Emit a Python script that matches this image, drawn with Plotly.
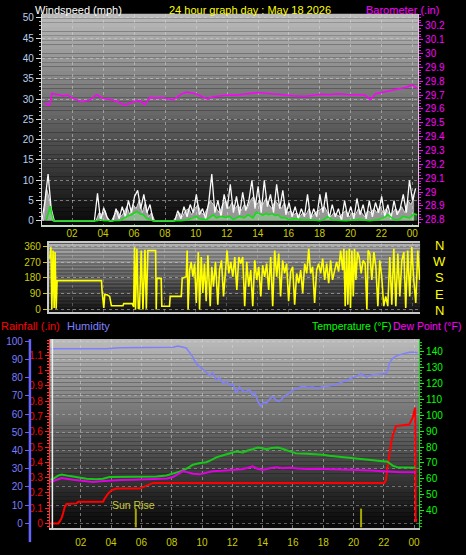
import plotly.graph_objects as go

W, H = 466, 555

# ---------------- data ----------------
hour_ticks = [2, 4, 6, 8, 10, 12, 14, 16, 18, 20, 22, 24]
hour_labels = ["02", "04", "06", "08", "10", "12", "14", "16", "18", "20", "22", "00"]

# wind gust (mph), one sample every 0.2 h from 00:00
wind_gust = [0, 5, 11.5, 3, 0, 0, 0, 0, 0, 0, 0, 0, 0, 0, 0, 0, 0, 0, 6.8, 0,
             3.2, 1, 0, 0, 3, 0.5, 3.5, 1, 5, 2, 6, 7.5, 3, 6.5, 2, 4, 0, 0, 0, 0,
             0, 0, 0, 0, 2.5, 0.5, 3.5, 1, 4, 2, 6.5, 1.5, 3, 0.5, 4.5, 11.5, 2, 5, 1, 6.5,
             3, 9, 2, 6, 1.5, 7, 2.5, 5, 10, 3, 8.5, 2, 10, 3.5, 6.5, 2, 9, 3, 7.5, 1.5,
             4.5, 1, 3.5, 0.5, 3, 1, 6.5, 0.5, 3, 1, 6.5, 2, 7, 0.5, 4, 1, 3, 0, 5, 1,
             3.5, 0.5, 5.5, 1.5, 4, 0.5, 5, 1, 4.5, 2, 6, 1, 4, 0.5, 5, 1.5, 3, 6.5, 2, 10,
             5, 8]
# wind speed (mph), one sample every 0.2 h from 00:06
wind_speed = [0, 8, 5, 0, 0, 0, 0, 0, 0, 0, 0, 0, 0, 0, 0, 0, 0, 0, 2, 1.5,
              2.5, 0, 0, 1.5, 2.5, 1, 2, 3.5, 1.5, 4, 3, 5, 2, 4.5, 1, 2, 0, 0, 0, 0,
              0, 0, 0, 1, 2, 1, 2.5, 3, 1.5, 3, 4, 2, 1.5, 3, 5, 4, 3, 2, 4, 5,
              3, 4.5, 3, 4, 2.5, 4, 3, 5, 6, 4, 5, 4, 5.5, 4, 3, 5, 4, 3, 4.5, 2,
              2.5, 1.5, 2, 1, 2, 1.5, 3, 1, 2, 2.5, 3, 3.5, 2, 1, 2, 1.5, 1, 2, 2.5, 1,
              2, 1.5, 3, 2, 1, 2.5, 2, 3, 2, 3.5, 2, 3, 1.5, 2, 3, 2, 3.5, 2, 5, 4,
              6]
# wind average (hour, mph)
wind_avg = [(0.3, 0.2), (0.45, 2.5), (0.54, 3.6), (0.62, 2.0), (0.75, 0.0), (3.6, 0.0), (3.76, 0.3),
            (4.0, 0.0), (5.06, 0.1), (5.3, 0.6), (5.5, 1.1), (5.8, 1.5), (6.0, 1.9), (6.13, 2.3),
            (6.35, 1.7), (6.56, 1.5), (6.78, 0.6), (7.0, 0.2), (7.2, 0.0), (9.0, 0.0), (9.36, 0.2),
            (9.7, 0.6), (10.0, 1.1), (10.2, 0.5), (10.66, 0.3), (10.9, 0.9), (11.1, 1.5), (11.3, 0.7),
            (11.6, 1.1), (11.9, 0.8), (12.17, 1.1), (12.38, 0.3), (12.6, 0.7), (12.8, 1.1), (13.1, 0.7),
            (13.35, 1.5), (13.67, 0.7), (13.88, 2.1), (14.1, 1.7), (14.3, 1.4), (14.5, 1.8), (14.7, 1.5),
            (14.9, 1.8), (15.1, 1.3), (15.3, 1.5), (15.5, 0.7), (15.75, 0.8), (16.0, 0.3), (16.5, 0.5),
            (16.9, 0.2), (17.55, 0.2), (18.0, 0.0), (18.3, 0.4), (18.5, 1.0), (18.8, 0.2), (19.7, 0.0),
            (20.2, 0.2), (20.55, 0.3), (21.2, 0.0), (21.85, 0.3), (22.2, 0.9), (22.4, 1.5), (22.8, 0.3),
            (23.1, 0.2), (23.4, 1.1), (23.8, 0.7), (24.1, 1.7), (24.3, 1.5)]
# barometer (hour, inHg)
barometer = [(0.15, 29.641), (0.49, 29.626), (0.65, 29.712), (1.07, 29.702), (1.4, 29.693), (1.62, 29.702),
             (2.04, 29.674), (2.58, 29.651), (3.12, 29.665), (3.55, 29.702), (3.98, 29.674), (4.4, 29.668),
             (4.84, 29.655), (5.38, 29.626), (5.92, 29.651), (6.35, 29.66), (6.67, 29.631), (7.0, 29.683),
             (7.4, 29.678), (7.75, 29.683), (8.1, 29.672), (8.5, 29.665), (9.0, 29.705), (9.37, 29.722),
             (10.01, 29.707), (10.66, 29.674), (11.1, 29.688), (11.52, 29.693), (12.03, 29.7),
             (12.6, 29.698), (13.11, 29.705), (13.97, 29.719), (14.5, 29.712), (15.05, 29.705),
             (15.6, 29.698), (16.3, 29.694), (16.99, 29.69), (17.5, 29.699), (18.06, 29.705),
             (18.6, 29.702), (19.14, 29.71), (19.7, 29.704), (20.22, 29.7), (20.87, 29.7), (21.05, 29.69),
             (21.25, 29.667), (21.62, 29.71), (22.1, 29.72), (22.58, 29.733), (23.0, 29.74),
             (23.45, 29.752), (23.99, 29.771), (24.31, 29.747)]
# wind direction (hour, degrees)
wind_dir = [(0.56, 291), (0.63, 356), (0.69, 0), (0.77, 337), (0.84, 9), (0.9, 328), (0.97, 4), (1.03, 165),
            (3.9, 165), (3.94, 103), (4.05, 9), (4.11, 84), (4.26, 84), (4.43, 75), (4.54, 22), (5.29, 22),
            (5.34, 34), (5.89, 34), (5.98, 15), (6.04, 356), (6.1, 0), (6.19, 347), (6.28, 4), (6.36, 9),
            (6.47, 337), (6.58, 0), (6.71, 341), (6.8, 4), (6.9, 337), (7.4, 337), (7.44, 0), (7.48, 178),
            (7.76, 178), (7.8, 19), (8.3, 19), (8.34, 75), (9.06, 75), (9.12, 178), (9.38, 187), (9.44, 337),
            (9.5, 0), (9.6, 225), (9.7, 272), (9.81, 187), (9.92, 262), (10.03, 37), (10.16, 328), (10.24, 0),
            (10.35, 300), (10.45, 94), (10.56, 262), (10.67, 47), (10.78, 309), (10.93, 19), (11.03, 244),
            (11.14, 131), (11.27, 272), (11.42, 28), (11.53, 225), (11.66, 281), (11.79, 75), (11.92, 262),
            (12.02, 337), (12.13, 206), (12.26, 272), (12.39, 187), (12.52, 300), (12.65, 112), (12.78, 300),
            (12.9, 262), (13.03, 300), (13.16, 19), (13.29, 272), (13.42, 131), (13.55, 225), (13.68, 19),
            (13.81, 281), (13.94, 169), (14.07, 244), (14.2, 75), (14.32, 253), (14.45, 187), (14.58, 262),
            (14.71, 112), (14.84, 300), (14.97, 19), (15.1, 337), (15.23, 187), (15.36, 319), (15.48, 75),
            (15.61, 281), (15.74, 206), (15.87, 262), (16.0, 47), (16.13, 216), (16.26, 244), (16.39, 28),
            (16.52, 206), (16.65, 150), (16.78, 225), (16.91, 94), (17.04, 262), (17.17, 206), (17.3, 347),
            (17.42, 206), (17.55, 244), (17.68, 37), (17.81, 225), (17.94, 262), (18.07, 206), (18.2, 291),
            (18.33, 169), (18.46, 262), (18.59, 150), (18.71, 281), (18.84, 169), (18.97, 225), (19.1, 272),
            (19.23, 216), (19.36, 337), (19.49, 225), (19.57, 347), (19.66, 19), (19.75, 337), (19.83, 28),
            (19.92, 347), (20.0, 9), (20.09, 337), (20.18, 75), (20.26, 347), (20.35, 169), (20.45, 328),
            (20.56, 300), (20.69, 206), (20.82, 281), (20.95, 262), (21.06, 0), (21.14, 337), (21.25, 319),
            (21.38, 169), (21.51, 328), (21.64, 244), (21.77, 19), (21.89, 281), (22.02, 187), (22.15, 19),
            (22.28, 75), (22.41, 19), (22.54, 300), (22.67, 28), (22.8, 347), (22.93, 19), (23.06, 319),
            (23.19, 75), (23.32, 281), (23.45, 328), (23.57, 9), (23.7, 337), (23.83, 75), (23.96, 356),
            (24.09, 169), (24.22, 37), (24.35, 337), (24.48, 169)]
# humidity (hour, %)
humidity = [(0.0, 95.8), (0.18, 95.8), (1.5, 95.8), (3.0, 95.9), (3.7, 95.8), (4.57, 96.4), (6.0, 96.4),
            (7.5, 96.5), (8.1, 96.6), (8.41, 97.3), (8.7, 96.6), (8.96, 96.2), (9.2, 93.5), (9.4, 91.2),
            (9.62, 87.6), (9.85, 86.0), (10.06, 84.0), (10.3, 82.5), (10.5, 81.2), (10.7, 82.8), (10.94, 78.5),
            (11.16, 79.9), (11.38, 76.8), (11.6, 78.0), (11.82, 75.8), (12.05, 76.5), (12.26, 71.4),
            (12.48, 75.0), (12.7, 72.5), (12.92, 72.3), (13.13, 73.5), (13.35, 70.4), (13.5, 71.5),
            (13.68, 66.9), (13.9, 64.2), (14.05, 66.5), (14.24, 65.9), (14.45, 68.0), (14.67, 69.6),
            (14.9, 67.5), (15.1, 66.9), (15.3, 68.5), (15.55, 70.4), (15.75, 71.2), (15.98, 73.1),
            (16.3, 74.0), (16.64, 75.3), (17.0, 74.5), (17.3, 74.8), (17.6, 74.0), (17.96, 75.0),
            (18.3, 75.2), (18.62, 75.8), (18.95, 76.5), (19.28, 77.7), (19.6, 78.5), (19.94, 80.0),
            (20.2, 80.5), (20.5, 82.2), (20.7, 81.0), (20.93, 80.4), (21.26, 81.6), (21.7, 81.9),
            (22.14, 82.2), (22.25, 83.5), (22.36, 87.6), (22.5, 89.5), (22.69, 91.2), (22.95, 92.3),
            (23.24, 93.0), (23.68, 93.8), (24.0, 93.8), (24.23, 93.6)]
# rainfall (hour, inches)
rainfall = [(0.0, 0.0), (0.51, 0.0), (0.62, 0.015), (0.73, 0.034), (0.84, 0.07), (0.95, 0.11), (1.06, 0.127),
            (1.72, 0.131), (1.83, 0.142), (3.47, 0.142), (3.58, 0.163), (3.8, 0.195), (4.02, 0.217),
            (4.35, 0.228), (5.89, 0.228), (6.22, 0.243), (6.55, 0.26), (6.77, 0.265), (22.03, 0.265),
            (22.14, 0.282), (22.25, 0.368), (22.36, 0.46), (22.47, 0.518), (22.58, 0.572), (22.8, 0.637),
            (23.68, 0.647), (23.9, 0.69), (24.07, 0.759), (24.1, 0.01), (24.16, 0.03)]
# temperature (hour, F)
temperature = [(0.0, 59.5), (0.18, 60.0), (0.5, 62.0), (0.73, 62.7), (1.28, 61.7), (1.8, 60.8), (2.38, 60.0),
               (3.0, 59.8), (3.47, 60.0), (3.9, 61.1), (4.6, 61.2), (5.45, 61.5), (6.3, 61.6), (7.0, 61.5),
               (7.65, 62.1), (8.08, 63.1), (8.52, 64.5), (8.96, 66.2), (9.4, 68.9), (9.8, 69.8), (10.28, 70.4),
               (10.6, 71.8), (10.94, 73.5), (11.4, 74.8), (11.82, 76.0), (12.26, 77.2), (12.7, 76.6),
               (13.0, 77.8), (13.35, 78.6), (13.68, 79.7), (14.0, 79.2), (14.24, 78.6), (14.6, 79.4),
               (15.0, 79.7), (15.3, 78.9), (15.55, 78.0), (15.9, 77.0), (16.21, 76.0), (16.9, 75.8),
               (17.53, 75.5), (18.0, 75.1), (18.4, 74.5), (19.0, 74.0), (19.5, 73.5), (20.0, 73.0),
               (20.6, 72.4), (21.3, 71.9), (21.92, 71.4), (22.25, 70.8), (22.42, 69.5), (22.58, 68.3),
               (22.9, 67.3), (23.5, 67.3), (24.0, 67.3), (24.1, 67.0)]
# dew point (hour, F)
dew_point = [(0.0, 58.0), (0.18, 58.6), (0.73, 60.5), (1.5, 59.4), (2.2, 58.5), (2.8, 58.0), (3.3, 58.5),
             (3.9, 59.0), (4.6, 59.2), (5.45, 59.4), (6.3, 59.6), (7.2, 59.7), (7.7, 60.2), (8.08, 61.1),
             (8.4, 62.8), (8.74, 64.8), (9.0, 64.2), (9.4, 63.2), (9.84, 62.8), (10.3, 63.8), (10.7, 64.8),
             (11.3, 65.0), (12.0, 65.5), (12.6, 66.0), (13.0, 66.8), (13.35, 67.9), (13.6, 66.5),
             (14.0, 65.6), (14.4, 66.5), (14.9, 67.3), (15.3, 66.6), (15.8, 67.0), (16.3, 66.5),
             (16.9, 66.2), (17.7, 66.4), (18.6, 66.2), (19.5, 66.0), (20.35, 65.6), (21.2, 65.2),
             (21.92, 64.8), (22.5, 64.4), (23.1, 64.2), (24.0, 64.2), (24.1, 64.0)]
sunrise_hour = 5.63
sunset_hour = 20.5

windspeed_ticks = [0, 5, 10, 15, 20, 25, 30, 35, 40, 45, 50]
baro_ticks = [28.8, 28.9, 29.0, 29.1, 29.2, 29.3, 29.4, 29.5, 29.6, 29.7, 29.8, 29.9, 30.0, 30.1, 30.2]
baro_labels = ["28.8", "28.9", "29", "29.1", "29.2", "29.3", "29.4", "29.5", "29.6", "29.7", "29.8",
               "29.9", "30", "30.1", "30.2"]
dir_ticks = [0, 90, 180, 270, 360]
compass_labels = ["N", "W", "S", "E", "N"]
hum_ticks = [0, 10, 20, 30, 40, 50, 60, 70, 80, 90, 100]
rain_ticks = [0, 0.1, 0.2, 0.3, 0.4, 0.5, 0.6, 0.7, 0.8, 0.9, 1.0, 1.1]
rain_labels = ["0", "0.1", "0.2", "0.3", "0.4", "0.5", "0.6", "0.7", "0.8", "0.9", "1", "1.1"]
temp_ticks = [40, 50, 60, 70, 80, 90, 100, 110, 120, 130, 140]


def px(x):
    return x / W


def py(y):
    return 1 - y / H


def xs(pairs):
    return [p[0] for p in pairs]


def ys(pairs):
    return [p[1] for p in pairs]


gust_hours = [round(0.2 * i, 2) for i in range(len(wind_gust))]
speed_hours = [round(0.1 + 0.2 * i, 2) for i in range(len(wind_speed))]

fig = go.Figure()

# ---- top panel ----
fig.add_trace(go.Scatter(x=speed_hours, y=wind_speed, mode="lines", line=dict(color="#D0D0D0", width=1),
                         fill="tozeroy", fillcolor="rgba(225,225,225,0.65)",
                         xaxis="x", yaxis="y", hoverinfo="skip"))
fig.add_trace(go.Scatter(x=gust_hours, y=wind_gust, mode="lines", line=dict(color="#FAFAFA", width=1.3),
                         xaxis="x", yaxis="y", hoverinfo="skip"))
fig.add_trace(go.Scatter(x=xs(wind_avg), y=ys(wind_avg), mode="lines", line=dict(color="#10E010", width=1.5),
                         fill="tozeroy", fillcolor="rgba(140,255,140,0.3)", xaxis="x", yaxis="y",
                         hoverinfo="skip"))
fig.add_trace(go.Scatter(x=xs(barometer), y=ys(barometer), mode="lines", line=dict(color="#FF00FF", width=1.5),
                         xaxis="x", yaxis="y2", hoverinfo="skip"))

# ---- wind direction panel ----
fig.add_trace(go.Scatter(x=xs(wind_dir), y=ys(wind_dir), mode="lines", line=dict(color="#FFFF00", width=1.6),
                         xaxis="x2", yaxis="y3", hoverinfo="skip"))

# ---- bottom panel ----
fig.add_trace(go.Scatter(x=xs(humidity), y=ys(humidity), mode="lines", line=dict(color="#8080FF", width=1.5),
                         xaxis="x3", yaxis="y4", hoverinfo="skip"))
fig.add_trace(go.Scatter(x=xs(temperature), y=ys(temperature), mode="lines",
                         line=dict(color="#18C818", width=2), xaxis="x3", yaxis="y6", hoverinfo="skip"))
fig.add_trace(go.Scatter(x=xs(dew_point), y=ys(dew_point), mode="lines", line=dict(color="#E000E0", width=2),
                         xaxis="x3", yaxis="y6", hoverinfo="skip"))
fig.add_trace(go.Scatter(x=xs(rainfall), y=ys(rainfall), mode="lines", line=dict(color="#FF0000", width=2),
                         xaxis="x3", yaxis="y5", hoverinfo="skip"))

FONT = "Liberation Sans, Arial, sans-serif"
GRID = "rgba(215,215,215,0.5)"

shapes = []


def gradient(x0, x1, y0, y1, top, bottom, n=48):
    h = (y1 - y0) / n
    for i in range(n):
        t = i / (n - 1)
        g = int(round(top + (bottom - top) * t))
        shapes.append(dict(type="rect", xref="paper", yref="paper", layer="below",
                           x0=px(x0), x1=px(x1), y0=py(y0 + (i + 1) * h), y1=py(y0 + i * h),
                           line=dict(width=0), fillcolor=f"rgb({g},{g},{g})"))


gradient(42, 419, 10, 224, 186, 10)
gradient(49, 421, 243, 312, 176, 22)
gradient(50, 420, 340, 532, 186, 8)

# white left border of bottom plot & blue humidity axis line
shapes.append(dict(type="line", xref="paper", yref="paper", x0=px(52.5), x1=px(52.5), y0=py(532), y1=py(340),
                   line=dict(color="#F0F0F0", width=1.5)))
shapes.append(dict(type="line", xref="paper", yref="paper", x0=px(30), x1=px(30), y0=py(546), y1=py(340),
                   line=dict(color="#6464FF", width=2.5)))
# sunrise / sunset markers
for hr in (sunrise_hour, sunset_hour):
    shapes.append(dict(type="line", xref="x3", yref="paper", x0=hr, x1=hr, y0=py(531), y1=py(512),
                       line=dict(color="#A8A800", width=2)))

annotations = []


def label(text, x, y, color, size=10.5, anchor="left"):
    annotations.append(dict(text=text, x=px(x), y=py(y), xref="paper", yref="paper", xanchor=anchor,
                            yanchor="middle", showarrow=False, borderpad=0,
                            font=dict(family=FONT, size=size, color=color)))


label("Windspeed (mph)", 34, 6, "#FFFFFF", size=11)
label("24 hour graph day : May 18 2026", 251, 6, "#FFFF00", size=11, anchor="center")
label("Barometer (.in)", 441, 6, "#FF00FF", size=11, anchor="right")
label("Rainfall (.in)", 0, 327, "#FF0000", size=11)
label("Humidity", 66, 327, "#8080FF", size=11)
label("Temperature (°F)", 312, 327, "#00FF00", size=10.5)
label("Dew Point (°F)", 393, 327, "#FF00FF", size=10.5)
label("Sun Rise", 134, 508, "#C8C83C", size=10.5, anchor="center")
for lab, yy in zip(compass_labels, [245, 261, 278, 295, 311]):
    label(lab, 440, yy, "#FFFF00", size=13, anchor="center")

tickf = dict(family=FONT, size=10)

fig.update_layout(
    width=W, height=H, margin=dict(l=0, r=0, t=0, b=0),
    paper_bgcolor="#000000", plot_bgcolor="rgba(0,0,0,0)", showlegend=False,
    shapes=shapes, annotations=annotations,
    xaxis=dict(domain=[px(42), px(419)], anchor="y", range=[0.0, 24.36], tickvals=hour_ticks,
               showticklabels=False, ticks="", ticklen=0,
               showline=True, linecolor="#C8DCC8", linewidth=2, showgrid=True, gridcolor=GRID,
               griddash="dot", zeroline=False, fixedrange=True),
    yaxis=dict(domain=[py(224), py(10)], anchor="x", range=[-0.97, 50.97], tickvals=windspeed_ticks,
               tickfont=dict(tickf, color="#B8D0F0"), ticks="outside", ticklen=5, tickcolor="#DDDDDD",
               showline=True, linecolor="#DDDDDD", showgrid=True, gridcolor=GRID, griddash="dot",
               zeroline=True, zerolinecolor="#000000", zerolinewidth=1.5,
               minor=dict(ticks="outside", ticklen=2, tickcolor="#BBBBBB", dtick=1, showgrid=False)),
    yaxis2=dict(overlaying="y", anchor="x", side="right", range=[28.7645, 30.2853], tickvals=baro_ticks,
                ticktext=baro_labels, tickfont=dict(tickf, color="#FF00FF"), ticks="outside", ticklen=4,
                tickcolor="#FF00FF", showline=True, linecolor="#D0D0D0", showgrid=False, zeroline=False,
                minor=dict(ticks="outside", ticklen=2, tickcolor="#FF00FF", dtick=0.02, showgrid=False)),
    xaxis2=dict(domain=[px(49), px(421)], anchor="y3", side="top", range=[0.5, 24.5], tickvals=hour_ticks,
                ticktext=hour_labels, tickfont=dict(tickf, color="#CCCC00"), ticks="", ticklen=0,
                showline=True, linecolor="#C8C8C8", linewidth=2, mirror=True,
                showgrid=True, gridcolor="rgba(215,215,215,0.3)", griddash="dot", zeroline=False),
    yaxis3=dict(domain=[py(312), py(243)], anchor="x2", range=[-11.25, 376.9], tickvals=dir_ticks,
                tickfont=dict(tickf, color="#CCCC00"), ticks="outside", ticklen=4, tickcolor="#CCCC00",
                showline=True, linecolor="#C8C8C8", linewidth=2, showgrid=True, gridcolor=GRID,
                griddash="dot", zeroline=False),
    xaxis3=dict(domain=[px(50), px(420)], anchor="y4", range=[-0.04, 24.33], tickvals=hour_ticks,
                ticktext=hour_labels, tickfont=dict(tickf, color="#CCCC00"), ticks="", ticklen=0,
                ticklabelstandoff=4,
                showline=True, linecolor="#C8C8C8", linewidth=2, showgrid=True, gridcolor=GRID,
                griddash="dot", zeroline=False),
    yaxis4=dict(domain=[py(532), py(340)], anchor="free", position=px(30), side="left",
                range=[-2.7, 101.08], tickvals=hum_ticks, tickfont=dict(tickf, color="#7C7CFF"),
                ticks="outside", ticklen=5, tickcolor="#6464FF", showline=False, showgrid=True,
                gridcolor="rgba(215,215,215,0.4)", griddash="dot", zeroline=False),
    yaxis5=dict(overlaying="y4", anchor="x3", side="left", range=[-0.0323, 1.2065], tickvals=rain_ticks,
                ticktext=rain_labels, tickfont=dict(tickf, color="#FF0000"), ticks="outside", ticklen=4,
                tickcolor="#FF2020", showline=True, linecolor="#FF3030", showgrid=False, zeroline=False,
                minor=dict(ticks="outside", ticklen=2, tickcolor="#FF4040", dtick=0.02, showgrid=False)),
    yaxis6=dict(overlaying="y4", anchor="x3", side="right", range=[28.84, 147.9], tickvals=temp_ticks,
                tickfont=dict(tickf, color="#00FF00"), ticks="outside", ticklen=4, tickcolor="#00FF00",
                showline=True, linecolor="#20D020", showgrid=False, zeroline=False,
                minor=dict(ticks="outside", ticklen=2, tickcolor="#00DD00", dtick=2, showgrid=False)),
)

fig.write_html("out.html", config={"displayModeBar": False},
               post_script=["document.body.style.margin='0px';document.body.style.background='#000';"])
